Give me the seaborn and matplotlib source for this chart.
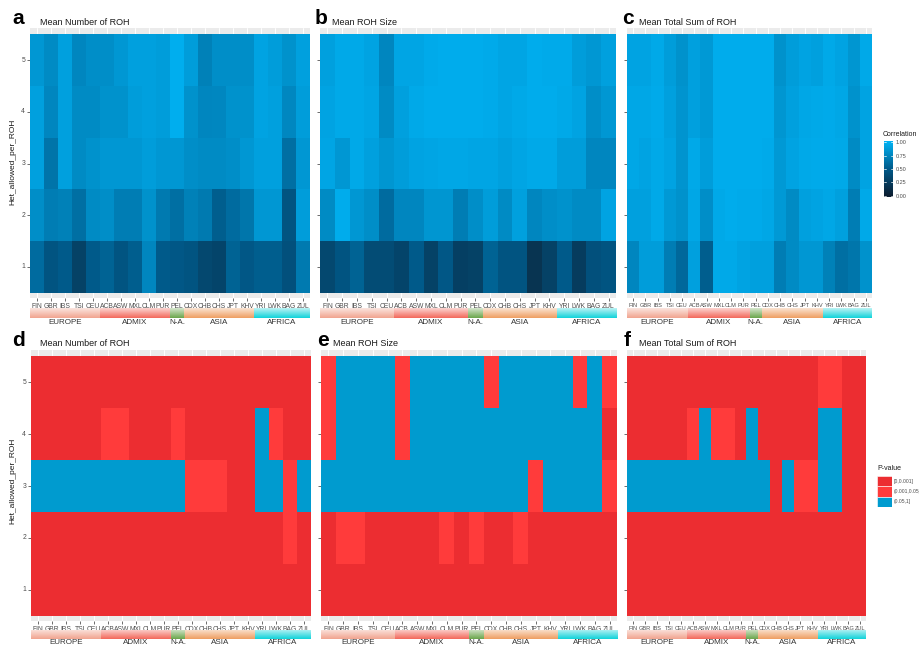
import numpy as np
import pandas as pd
import matplotlib
matplotlib.use("Agg")
import matplotlib.pyplot as plt
import seaborn as sns
from matplotlib.colors import LinearSegmentedColormap, ListedColormap, to_rgb

# ---------------------------------------------------------------- data
populations = ["FIN", "GBR", "IBS", "TSI", "CEU", "ACB", "ASW", "MXL", "CLM", "PUR",
               "PEL", "CDX", "CHB", "CHS", "JPT", "KHV", "YRI", "LWK", "BAG", "ZUL"]
het_levels = [5, 4, 3, 2, 1]          # rows, top to bottom
group_names = ["EUROPE", "ADMIX", "N-A.", "ASIA", "AFRICA"]
group_sizes = [5, 5, 1, 5, 4]
group_colors = ["#F1A48F", "#F3685B", "#6BA64C", "#EF9F62", "#10D3DA"]

# correlation, mean number of ROH (rows: het 5..1)
corr_number = [
    [0.85, 0.78, 0.90, 0.75, 0.80, 0.80, 0.85, 0.90, 0.90, 0.88, 0.98, 0.88, 0.72, 0.80, 0.80, 0.80, 0.92, 0.88, 0.82, 0.90],
    [0.90, 0.75, 0.90, 0.78, 0.78, 0.82, 0.82, 0.88, 0.90, 0.88, 0.98, 0.82, 0.75, 0.76, 0.82, 0.82, 0.92, 0.90, 0.76, 0.88],
    [0.90, 0.65, 0.90, 0.78, 0.82, 0.85, 0.85, 0.85, 0.88, 0.85, 0.85, 0.80, 0.78, 0.78, 0.80, 0.85, 0.90, 0.90, 0.62, 0.85],
    [0.80, 0.70, 0.72, 0.62, 0.78, 0.80, 0.70, 0.70, 0.82, 0.68, 0.62, 0.72, 0.68, 0.52, 0.60, 0.66, 0.85, 0.85, 0.45, 0.88],
    [0.60, 0.45, 0.50, 0.30, 0.50, 0.55, 0.45, 0.52, 0.75, 0.50, 0.48, 0.45, 0.35, 0.32, 0.55, 0.48, 0.52, 0.52, 0.42, 0.68],
]
# correlation, mean ROH size
corr_size = [
    [0.90, 0.95, 0.95, 0.92, 0.75, 0.93, 0.93, 0.96, 0.97, 0.97, 0.97, 0.96, 0.93, 0.93, 0.97, 0.96, 0.96, 0.88, 0.85, 0.90],
    [0.92, 0.95, 0.95, 0.93, 0.78, 0.90, 0.95, 0.97, 0.97, 0.97, 0.97, 0.96, 0.93, 0.95, 0.97, 0.97, 0.95, 0.92, 0.80, 0.85],
    [0.93, 0.85, 0.95, 0.90, 0.84, 0.88, 0.92, 0.93, 0.94, 0.94, 0.93, 0.93, 0.90, 0.93, 0.95, 0.95, 0.88, 0.88, 0.75, 0.75],
    [0.78, 0.97, 0.85, 0.80, 0.60, 0.75, 0.75, 0.84, 0.84, 0.70, 0.80, 0.88, 0.78, 0.90, 0.75, 0.80, 0.82, 0.78, 0.78, 0.92],
    [0.35, 0.45, 0.55, 0.38, 0.38, 0.32, 0.50, 0.30, 0.48, 0.28, 0.30, 0.55, 0.45, 0.45, 0.18, 0.30, 0.50, 0.25, 0.42, 0.45],
]
# correlation, mean total sum of ROH
corr_total = [
    [0.92, 0.92, 0.95, 0.88, 0.82, 0.90, 0.86, 0.97, 0.97, 0.97, 0.97, 0.97, 0.82, 0.88, 0.92, 0.90, 0.95, 0.92, 0.84, 0.95],
    [0.94, 0.94, 0.96, 0.90, 0.83, 0.90, 0.86, 0.97, 0.97, 0.97, 0.97, 0.97, 0.84, 0.90, 0.94, 0.95, 0.96, 0.94, 0.82, 0.92],
    [0.94, 0.92, 0.95, 0.92, 0.83, 0.95, 0.88, 0.97, 0.97, 0.97, 0.97, 0.96, 0.86, 0.92, 0.95, 0.96, 0.96, 0.95, 0.78, 0.92],
    [0.90, 0.90, 0.95, 0.86, 0.82, 0.94, 0.80, 0.95, 0.97, 0.96, 0.96, 0.94, 0.86, 0.78, 0.90, 0.92, 0.94, 0.90, 0.70, 0.95],
    [0.75, 0.88, 0.88, 0.70, 0.58, 0.90, 0.52, 0.95, 0.95, 0.92, 0.90, 0.90, 0.70, 0.78, 0.85, 0.85, 0.72, 0.62, 0.66, 0.82],
]

# p-value classes: 0 = [0,0.001], 1 = (0.001,0.05], 2 = (0.05,1]
pval_labels = ["[0,0.001]", "(0.001,0.05]", "(0.05,1]"]
pval_colors = ["#EC2D31", "#FF3B3B", "#009BCF"]

pclass_number = [
    [0, 0, 0, 0, 0, 0, 0, 0, 0, 0, 0, 0, 0, 0, 0, 0, 0, 0, 0, 0],
    [0, 0, 0, 0, 0, 1, 1, 0, 0, 0, 1, 0, 0, 0, 0, 0, 2, 1, 0, 0],
    [2, 2, 2, 2, 2, 2, 2, 2, 2, 2, 2, 1, 1, 1, 0, 0, 2, 2, 1, 2],
    [0, 0, 0, 0, 0, 0, 0, 0, 0, 0, 0, 0, 0, 0, 0, 0, 0, 0, 1, 0],
    [0, 0, 0, 0, 0, 0, 0, 0, 0, 0, 0, 0, 0, 0, 0, 0, 0, 0, 0, 0],
]
pclass_size = [
    [1, 2, 2, 2, 2, 1, 2, 2, 2, 2, 2, 1, 2, 2, 2, 2, 2, 1, 2, 1],
    [1, 2, 2, 2, 2, 1, 2, 2, 2, 2, 2, 2, 2, 2, 2, 2, 2, 2, 2, 0],
    [2, 2, 2, 2, 2, 2, 2, 2, 2, 2, 2, 2, 2, 2, 1, 2, 2, 2, 2, 1],
    [0, 1, 1, 0, 0, 0, 0, 0, 1, 0, 1, 0, 0, 1, 0, 0, 0, 0, 0, 0],
    [0, 0, 0, 0, 0, 0, 0, 0, 0, 0, 0, 0, 0, 0, 0, 0, 0, 0, 0, 0],
]
pclass_total = [
    [0, 0, 0, 0, 0, 0, 0, 0, 0, 0, 0, 0, 0, 0, 0, 0, 1, 1, 0, 0],
    [0, 0, 0, 0, 0, 1, 2, 1, 1, 0, 2, 0, 0, 0, 0, 0, 2, 2, 0, 0],
    [2, 2, 2, 2, 2, 2, 2, 2, 2, 2, 2, 2, 0, 2, 1, 1, 2, 2, 0, 0],
    [0, 0, 0, 0, 0, 0, 0, 0, 0, 0, 0, 0, 0, 0, 0, 0, 0, 0, 0, 0],
    [0, 0, 0, 0, 0, 0, 0, 0, 0, 0, 0, 0, 0, 0, 0, 0, 0, 0, 0, 0],
]

panel_titles = ["Mean Number of ROH", "Mean ROH Size", "Mean Total Sum of ROH"]

# ---------------------------------------------------------------- style
sns.set_theme(style="white")
plt.rcParams["font.family"] = ["Liberation Sans", "DejaVu Sans"]

W, H = 920, 646
fig = plt.figure(figsize=(W / 100, H / 100), dpi=100)
fig.patch.set_facecolor("white")

corr_cmap = LinearSegmentedColormap.from_list("corr", ["#0C1E31", "#005A8A", "#00B1F2"])
pval_cmap = ListedColormap(pval_colors)

TEXT_GREY = "#4D4D4D"


def px_axes(x0, y0, x1, y1):
    return fig.add_axes([x0 / W, 1 - y1 / H, (x1 - x0) / W, (y1 - y0) / H])


def draw_heat(rect, values, cmap, vmin, vmax, show_y, xlabel_size):
    ax = px_axes(*rect)
    df = pd.DataFrame(values, index=het_levels, columns=populations)
    sns.heatmap(df, ax=ax, cmap=cmap, vmin=vmin, vmax=vmax, cbar=False,
                xticklabels=populations, yticklabels=het_levels)
    ax.set_facecolor("#EBEBEB")
    ax.set_axisbelow(True)
    ax.grid(True, axis="x", color="white", lw=0.7)
    ax.set_xlim(0, len(populations))
    ax.set_ylim(len(het_levels) + 0.1, -0.12)
    ax.tick_params(axis="x", bottom=True, length=2, width=0.5, color="#333333",
                   labelsize=xlabel_size, labelcolor=TEXT_GREY, pad=1.5, rotation=0)
    ax.tick_params(axis="y", left=True, length=2, width=0.5, color="#333333",
                   labelsize=4.9, labelcolor=TEXT_GREY, pad=1.5, rotation=0)
    if not show_y:
        ax.set_yticklabels([])
    ax.set_xlabel("")
    ax.set_ylabel("")
    for s in ax.spines.values():
        s.set_visible(False)
    return ax


def draw_groups(x0, x1, y0, y1, label_y):
    gax = px_axes(x0, y0, x1, y1)
    gax.set_xlim(0, len(populations))
    gax.set_ylim(0, 1)
    gax.axis("off")
    start = 0
    fade = np.linspace(0.72, 0.0, 40)[:, None]
    for name, size, col in zip(group_names, group_sizes, group_colors):
        rgb = np.array(to_rgb(col))
        img = (1 - fade[..., None]) * rgb + fade[..., None] * np.ones(3)
        img = np.repeat(img, 2, axis=1)
        gax.imshow(img, extent=[start, start + size, 0, 1], aspect="auto",
                   interpolation="bilinear", origin="upper")
        cx = start + size / 2
        fig.text(gax.transData.transform((cx, 0))[0] / W, 1 - label_y / H, name,
                 ha="center", va="center", fontsize=5.8, color="#333333")
        start += size
    gax.set_xlim(0, len(populations))
    gax.set_ylim(0, 1)


top_rects = [(30, 28, 310, 298), (320, 28, 616, 298), (627, 28, 872, 298)]
bot_rects = [(31, 350, 311, 621), (321, 350, 617, 621), (627, 350, 866, 621)]
label_sizes = [4.9, 4.9, 4.1]
letters_top = ["a", "b", "c"]
letters_bot = ["d", "e", "f"]
letter_x_top = [12, 315, 622]
letter_x_bot = [12, 317, 624]
title_x_top = [40, 332, 639]
title_x_bot = [40, 333, 639]

for i, (rect, vals) in enumerate(zip(top_rects, [corr_number, corr_size, corr_total])):
    draw_heat(rect, vals, corr_cmap, 0, 1, show_y=(i == 0), xlabel_size=label_sizes[i])
    draw_groups(rect[0], rect[2], 308, 318, 323)
    fig.text(letter_x_top[i] / W, 1 - 19 / H, letters_top[i], fontsize=15,
             fontweight="bold", ha="left", va="center", color="black")
    fig.text(title_x_top[i] / W, 1 - 22.5 / H, panel_titles[i], fontsize=6.5,
             ha="left", va="center", color="#1A1A1A")

for i, (rect, vals) in enumerate(zip(bot_rects, [pclass_number, pclass_size, pclass_total])):
    draw_heat(rect, vals, pval_cmap, -0.5, 2.5, show_y=(i == 0), xlabel_size=label_sizes[i])
    draw_groups(rect[0], rect[2], 630, 639, 643)
    fig.text(letter_x_bot[i] / W, 1 - 341 / H, letters_bot[i], fontsize=15,
             fontweight="bold", ha="left", va="center", color="black")
    fig.text(title_x_bot[i] / W, 1 - 343 / H, panel_titles[i], fontsize=6.5,
             ha="left", va="center", color="#1A1A1A")

# y axis titles
for yc in (162, 481):
    fig.text(13 / W, 1 - yc / H, "Het_allowed_per_ROH", rotation=90, fontsize=6,
             ha="center", va="center", color="#1A1A1A")

# correlation colour bar
cax = px_axes(884, 141, 893, 197)
grad = np.linspace(1.02, -0.02, 200)[:, None]
cax.imshow(grad, cmap=corr_cmap, vmin=0, vmax=1, aspect="auto",
           extent=[0, 1, -0.02, 1.02], origin="upper")
cax.set_xlim(0, 1)
cax.set_ylim(-0.02, 1.02)
ticks = [0.0, 0.25, 0.5, 0.75, 1.0]
for t in ticks:
    cax.plot([0, 0.2], [t, t], color="white", lw=0.5)
    cax.plot([0.8, 1], [t, t], color="white", lw=0.5)
cax.set_xticks([])
cax.set_yticks(ticks)
cax.set_yticklabels([f"{t:.2f}" for t in ticks])
cax.yaxis.tick_right()
cax.tick_params(axis="y", length=0, labelsize=4.0, labelcolor=TEXT_GREY, pad=2)
for s in cax.spines.values():
    s.set_visible(False)
fig.text(883 / W, 1 - 135 / H, "Correlation", fontsize=5.0, ha="left",
         va="center", color="#1A1A1A")

# p-value legend
lax = px_axes(877, 476, 892, 507)
lax.set_xlim(0, 1)
lax.set_ylim(len(pval_labels), 0)
lax.axis("off")
for k, (lab, col) in enumerate(zip(pval_labels, pval_colors)):
    lax.add_patch(plt.Rectangle((0, k), 1, 1, facecolor=col, edgecolor="white", lw=0.4))
    fig.text(893.5 / W, 1 - (476 + 10.3 * k + 5) / H, lab, fontsize=3.6,
             ha="left", va="center", color=TEXT_GREY)
fig.text(877 / W, 1 - 469 / H, "P-value", fontsize=5.0, ha="left", va="center",
         color="#1A1A1A")

fig.savefig("out.png", dpi=100, facecolor="white")
